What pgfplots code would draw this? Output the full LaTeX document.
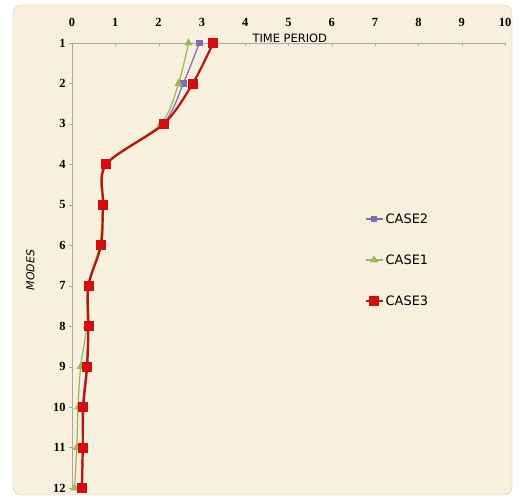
\documentclass[border=0pt]{standalone}
\usepackage{pgfplots}
\pgfplotsset{compat=1.18}
\usepackage{fontspec}
\setmainfont{Liberation Serif}
\newfontfamily\lab{DejaVu Sans}
\definecolor{bgc}{HTML}{F8EFDD}
\definecolor{cpur}{HTML}{7E6BB5}
\definecolor{cgrn}{HTML}{98B957}
\definecolor{cred}{HTML}{B81414}
\definecolor{cmark}{HTML}{DD0A0A}
\begin{document}
\begin{tikzpicture}[x=1bp,y=1bp]
\fill[white] (-72,-9) rectangle (448,488);
\fill[bgc,draw=gray!40,rounded corners=8bp] (-59,-7) rectangle (440,483);
\begin{axis}[
  at={(0,0)}, anchor=south west,
  scale only axis, width=433bp, height=445bp,
  xmin=0, xmax=10, ymin=1, ymax=12,
  y dir=reverse,
  axis x line=top, axis y line=left,
  axis line style={gray!70, -},
  xtick={0,...,10}, ytick={1,...,12},
  tick style={gray!70},
  xtick align=inside, ytick align=outside,
  major tick length=3bp,
  tick label style={font=\bfseries\fontsize{12.5}{12.5}\selectfont},
  /pgf/number format/assume math mode=true,
  xticklabel style={yshift=13bp},
  xlabel={TIME PERIOD},
  xlabel style={font=\lab\fontsize{11.5}{11.5}\selectfont, at={(axis description cs:0.503,1)}, anchor=south, yshift=-3bp},
  ylabel={MODES},
  ylabel style={font=\lab\itshape\fontsize{11}{11}\selectfont, at={(axis description cs:0,0.49)}, anchor=south, yshift=34bp},
  legend style={draw=none, fill=none, at={(axis description cs:0.675,0.622)}, anchor=north west,
    font=\lab\fontsize{13}{13}\selectfont, row sep=26bp, inner sep=0pt},
  legend cell align=left,
]
\addplot[cpur, line width=1.2bp, smooth, mark=square*, mark size=2.8bp, mark options={fill=cpur,draw=cpur}] coordinates {
(2.94,1) (2.57,2) (2.10,3) (0.77,4) (0.71,5) (0.66,6) (0.37,7) (0.37,8) (0.33,9) (0.24,10) (0.24,11) (0.21,12)};
\addlegendentry{CASE2}
\addplot[cgrn, line width=1.2bp, smooth, mark=triangle*, mark size=3.5bp, mark options={fill=cgrn,draw=cgrn}] coordinates {
(2.69,1) (2.46,2) (2.05,3) (0.76,4) (0.70,5) (0.64,6) (0.36,7) (0.34,8) (0.20,9) (0.14,10) (0.11,11) (0.06,12)};
\addlegendentry{CASE1}
\addplot[cred, line width=2.2bp, smooth, mark=square*, mark size=4.5bp, mark options={fill=cmark,draw=cred,line width=0.8bp}] coordinates {
(3.26,1) (2.79,2) (2.12,3) (0.79,4) (0.72,5) (0.67,6) (0.38,7) (0.38,8) (0.35,9) (0.26,10) (0.25,11) (0.23,12)};
\addlegendentry{CASE3}
\end{axis}
\end{tikzpicture}
\end{document}
